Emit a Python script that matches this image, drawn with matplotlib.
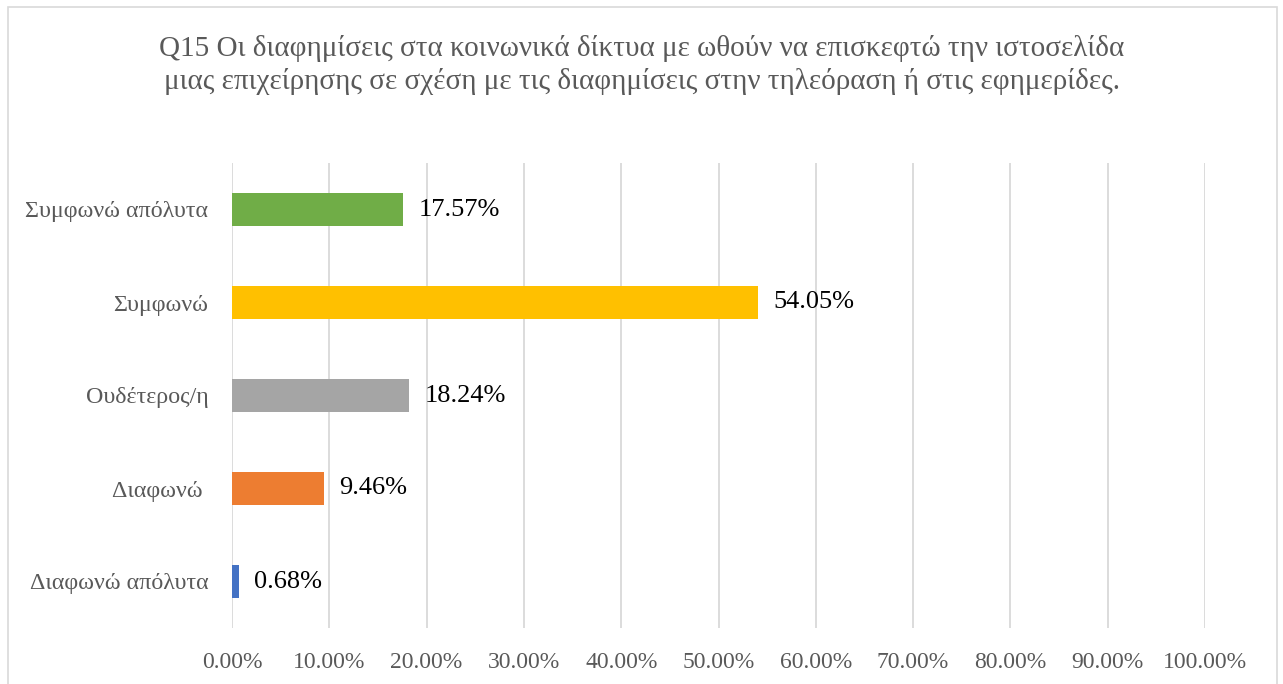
import matplotlib.pyplot as plt
from matplotlib.patches import Rectangle

# data (bottom to top)
categories = ['Διαφωνώ απόλυτα', 'Διαφωνώ ', 'Ουδέτερος/η', 'Συμφωνώ', 'Συμφωνώ απόλυτα']
values = [0.68, 9.46, 18.24, 54.05, 17.57]
bar_colors = ['#4472C4', '#ED7D31', '#A5A5A5', '#FFC000', '#70AD47']
ticks = [0, 10, 20, 30, 40, 50, 60, 70, 80, 90, 100]
title = ('Q15 Οι διαφημίσεις στα κοινωνικά δίκτυα με ωθούν να επισκεφτώ την ιστοσελίδα\n'
         'μιας επιχείρησης σε σχέση με τις διαφημίσεις στην τηλεόραση ή στις εφημερίδες.')

plt.rcParams['font.family'] = ['Liberation Serif', 'DejaVu Serif']

fig = plt.figure(figsize=(12.83, 6.84), dpi=100)
ax = fig.add_axes([232 / 1283, 1 - 628 / 684, (1205 - 232) / 1283, (628 - 163) / 684])

# outer chart border
fig.patches.append(Rectangle((8 / 1283, -0.05), (1277 - 8) / 1283, 1.05 - 7 / 684,
                             transform=fig.transFigure, fill=False,
                             edgecolor='#D9D9D9', linewidth=1.2))

y = range(len(categories))
ax.barh(y, values, height=0.36, color=bar_colors, zorder=3)

for i, v in enumerate(values):
    ax.annotate(f'{v:.2f}%', (v, i), xytext=(11, 0), textcoords='offset points',
                va='center', ha='left', fontsize=19, color='black')

ax.set_xlim(0, 100)
ax.set_ylim(-0.5, len(categories) - 0.5)
ax.set_xticks(ticks)
ax.set_xticklabels([f'{t:.2f}%' for t in ticks])
ax.set_yticks(list(y))
ax.set_yticklabels(categories)
ax.tick_params(axis='x', length=0, labelsize=17, labelcolor='#595959', pad=17)
ax.tick_params(axis='y', length=0, labelsize=17.3, labelcolor='#595959', pad=17)
ax.grid(axis='x', color='#D9D9D9', linewidth=1.3, zorder=0)
for s in ax.spines.values():
    s.set_visible(False)

fig.text(0.5, 1 - 65 / 684, title, ha='center', va='center', fontsize=21,
         color='#595959', linespacing=1.28)

fig.savefig('out.png', dpi=100)
